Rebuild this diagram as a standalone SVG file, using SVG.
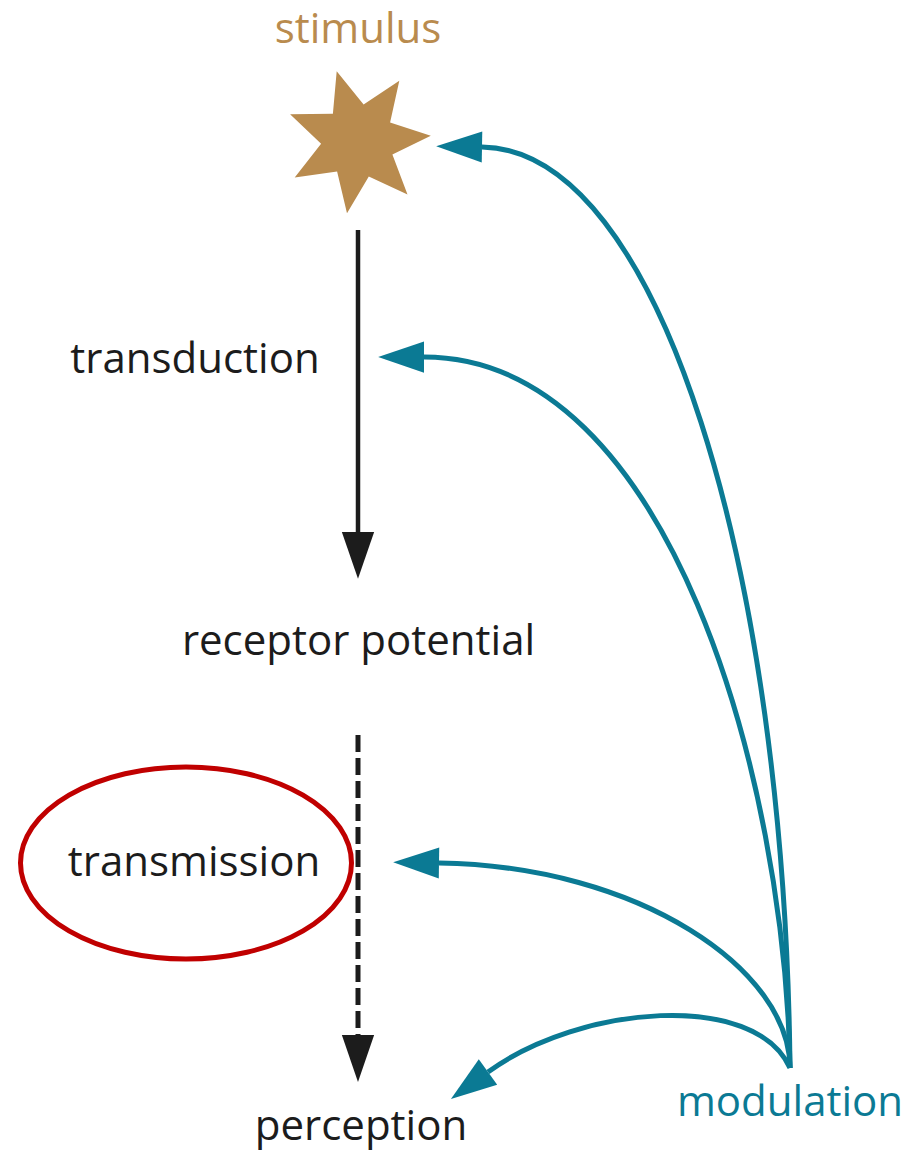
<svg xmlns="http://www.w3.org/2000/svg" width="911" height="1150" viewBox="0 0 911 1150">
  <style>
    .label { font-family: "Open Sans", "Noto Sans", "Liberation Sans", sans-serif; font-size: 42px; fill: #1c1c1c; }
    .gold { fill: #b98b4e; }
    .teal-text { fill: #0b7a94; }
    .flow { stroke: #1c1c1c; stroke-width: 4.5; fill: none; }
    .flow.dashed { stroke-width: 5; stroke-dasharray: 17 6; }
    .mod { stroke: #0b7a94; stroke-width: 5; fill: none; marker-start: url(#teal-head); }
  </style>
  <defs>
    <marker id="teal-head" markerUnits="userSpaceOnUse" markerWidth="50" markerHeight="36" viewBox="-1 -17 48 34" refX="0" refY="0" orient="auto-start-reverse">
      <path d="M0,-15 L44,0 L0,15 Z" fill="#0b7a94"/>
    </marker>
    <marker id="black-head" markerUnits="userSpaceOnUse" markerWidth="50" markerHeight="36" viewBox="-1 -17 48 34" refX="0" refY="0" orient="auto">
      <path d="M0,-15.5 L45,0 L0,15.5 Z" fill="#1c1c1c"/>
    </marker>
  </defs>

  <rect width="911" height="1150" fill="#ffffff"/>

  <!-- stimulus: seven-pointed star with its caption -->
  <g id="stimulus">
    <text class="label gold" x="358" y="43" text-anchor="middle">stimulus</text>
    <polygon class="gold" points="336.7,71.2 363.6,104.4 399.3,80.8 390.1,122.6 430.8,135.7 392.4,154.6 407.5,194.6 368.8,176.4 347,213.2 337.1,171.5 294.7,177.4 321.1,143.7 290.1,114.2 332.9,113.8"/>
  </g>

  <g id="transduction">
    <text class="label" x="195" y="373" text-anchor="middle">transduction</text>
  </g>

  <g id="receptor-potential">
    <text class="label" x="358.5" y="655" text-anchor="middle">receptor potential</text>
  </g>

  <g id="transmission">
    <ellipse cx="186" cy="863" rx="165.5" ry="96" fill="none" stroke="#c00000" stroke-width="5"/>
    <text class="label" x="194" y="876" text-anchor="middle">transmission</text>
  </g>

  <g id="perception">
    <text class="label" x="361" y="1140" text-anchor="middle">perception</text>
  </g>

  <g id="modulation">
    <text class="label teal-text" x="790" y="1116" text-anchor="middle">modulation</text>
  </g>

  <!-- connectors -->
  <g id="connectors">
    <!-- main pathway -->
    <line class="flow" x1="358" y1="230" x2="358" y2="532" marker-end="url(#black-head)"/>
    <line class="flow dashed" x1="358" y1="735" x2="358" y2="1035" marker-end="url(#black-head)"/>

    <!-- modulation feedback curves -->
    <path class="mod" d="M482,147 C660,150 785,570 790,1068"/>
    <path class="mod" d="M424,357 C670,357 785,780 790,1068"/>
    <path class="mod" d="M439,863 C640,866 790,970 790,1068"/>
    <path class="mod" d="M488,1072 C580,1005 755,990 790,1068"/>
  </g>
</svg>
